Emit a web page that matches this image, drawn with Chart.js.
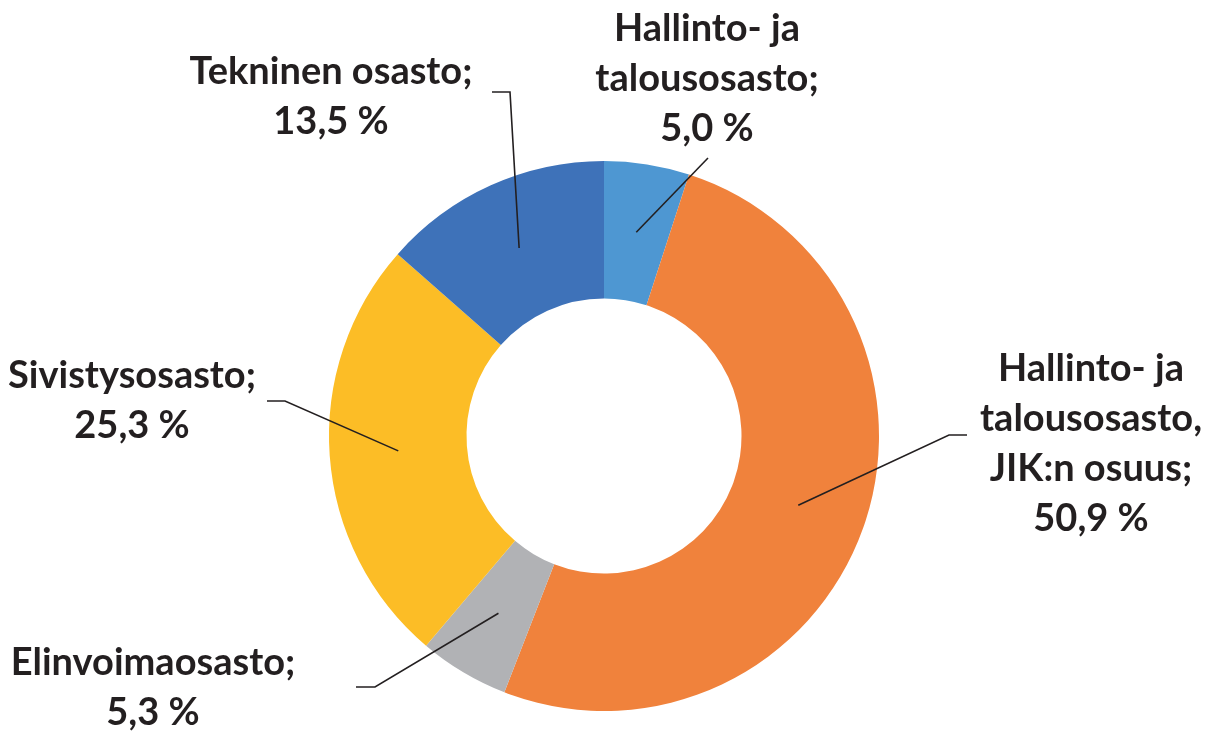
<!DOCTYPE html>
<html>
<head>
<meta charset="utf-8">
<script src="https://cdn.jsdelivr.net/npm/chart.js@4.4.1/dist/chart.umd.min.js"></script>
<style>
  html, body { margin: 0; padding: 0; background: #fff; }
  #wrap { width: 1211px; height: 731px; }
</style>
</head>
<body>
<div id="wrap"><canvas id="myChart" width="1211" height="731"></canvas></div>
<script>
// categories (already split into label lines)
const categories = [
  ['Hallinto- ja', 'talousosasto'],
  ['Hallinto- ja', 'talousosasto,', 'JIK:n osuus'],
  ['Elinvoimaosasto'],
  ['Sivistysosasto'],
  ['Tekninen osasto']
];
// share of total, %
const shares = [5.0, 50.9, 5.3, 25.3, 13.5];
const colors = ['#4E97D2', '#F0823C', '#B1B2B5', '#FCBD26', '#3E72B9'];

// where the labels sit and how the leader lines bend
const labelLayout = [
  { elbow: [708, 158], end: null, x: 707, y: 41 },
  { elbow: [949, 435], end: [967, 435], x: 1091, y: 381 },
  { elbow: [375, 687], end: [356, 687], x: 153, y: 675 },
  { elbow: [285, 401], end: [267, 401], x: 132, y: 388 },
  { elbow: [510, 92], end: [492, 92], x: 331, y: 84 }
];

const fmt = v => v.toFixed(1).replace('.', ',') + ' %';

const calloutLabels = {
  id: 'calloutLabels',
  afterDatasetsDraw(chart) {
    const ctx = chart.ctx;
    const arcs = chart.getDatasetMeta(0).data;
    ctx.save();
    arcs.forEach((arc, i) => {
      const p = arc.getProps(['x', 'y', 'startAngle', 'endAngle', 'innerRadius', 'outerRadius'], true);
      const mid = (p.startAngle + p.endAngle) / 2;
      const r = (p.innerRadius + p.outerRadius) / 2;
      const ax = p.x + Math.cos(mid) * r;
      const ay = p.y + Math.sin(mid) * r;
      const lay = labelLayout[i];

      ctx.strokeStyle = '#231F20';
      ctx.lineWidth = 1.6;
      ctx.beginPath();
      ctx.moveTo(ax, ay);
      ctx.lineTo(lay.elbow[0], lay.elbow[1]);
      if (lay.end) ctx.lineTo(lay.end[0], lay.end[1]);
      ctx.stroke();

      const lines = categories[i].slice();
      lines[lines.length - 1] += ';';
      lines.push(fmt(shares[i]));
      ctx.fillStyle = '#231F20';
      ctx.font = 'bold 38px Lato';
      ctx.textAlign = 'center';
      ctx.textBaseline = 'alphabetic';
      lines.forEach((t, k) => ctx.fillText(t, lay.x, lay.y + k * 50));
    });
    ctx.restore();
  }
};

const ctx = document.getElementById('myChart').getContext('2d');
const chart = new Chart(ctx, {
  type: 'doughnut',
  data: {
    labels: categories,
    datasets: [{
      data: shares,
      backgroundColor: colors,
      borderWidth: 0,
      hoverOffset: 0,
      offset: 0
    }]
  },
  options: {
    responsive: false,
    animation: false,
    cutout: '50%',
    layout: { padding: { top: 161, bottom: 20, left: 329, right: 332 } },
    plugins: {
      legend: { display: false },
      tooltip: { enabled: false }
    }
  },
  plugins: [calloutLabels]
});
</script>
</body>
</html>
